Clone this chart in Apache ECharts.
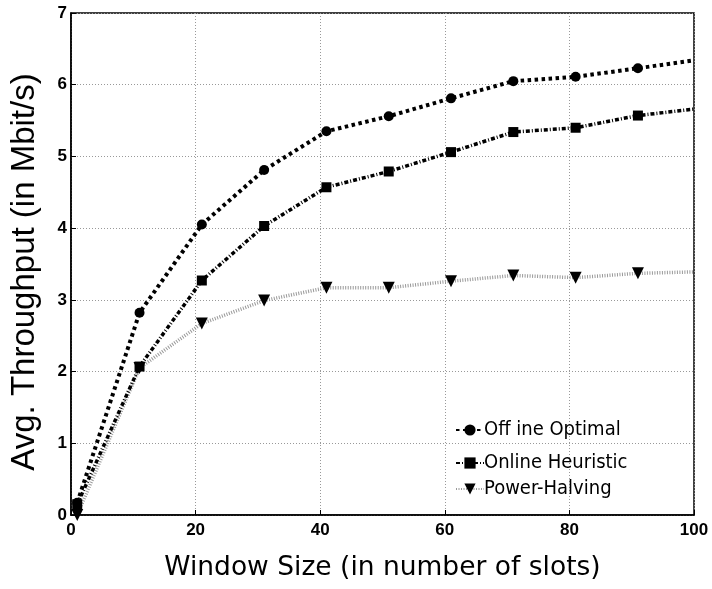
<!DOCTYPE html>
<html><head><meta charset="utf-8">
<script src="https://cdn.jsdelivr.net/npm/echarts@6/dist/echarts.min.js"></script>
<style>html,body{margin:0;padding:0;background:#fff}#c{width:712px;height:589px}</style>
</head><body><div id="c"></div>
<script>
const xValues = [1, 11, 21, 31, 41, 51, 61, 71, 81, 91, 100];
const offlineOptimal = [0.17, 2.82, 4.05, 4.81, 5.35, 5.56, 5.81, 6.05, 6.11, 6.23, 6.34];
const onlineHeuristic = [0.15, 2.07, 3.27, 4.03, 4.57, 4.79, 5.06, 5.34, 5.40, 5.57, 5.66];
const powerHalving = [0.0, 2.05, 2.67, 2.99, 3.17, 3.17, 3.26, 3.34, 3.31, 3.37, 3.39];
const seriesNames = ['Off ine Optimal', 'Online Heuristic', 'Power-Halving'];
const xTicks = [0, 20, 40, 60, 80, 100];
const yTicks = [0, 1, 2, 3, 4, 5, 6, 7];

function pts(vals) {
  return xValues.map((x, i) => i === xValues.length - 1
    ? { value: [x, vals[i]], symbol: 'none' }
    : [x, vals[i]]);
}
const chart = echarts.init(document.getElementById('c'), null, {renderer: 'canvas'});
const labelFont = {fontFamily: 'Liberation Sans, Arial, sans-serif', fontWeight: 'bold', fontSize: 17, color: '#000'};
const legendText = {fontFamily: 'DejaVu Sans Condensed, DejaVu Sans, sans-serif', fontSize: 20, color: '#000', padding: [0,0,0,-5]};
const legendTops = [415, 448, 474];
chart.setOption({
  animation: false,
  backgroundColor: '#fff',
  grid: {left: 67, top: 13, right: 18, bottom: 74, show: true, borderColor: '#000', borderWidth: 1.5, backgroundColor: 'transparent'},
  legend: seriesNames.map((n, i) => ({
    left: 450, top: legendTops[i], itemWidth: 28, itemHeight: 14,
    textStyle: legendText, data: [n]
  })),
  xAxis: {
    type: 'value', min: 0, max: 100, interval: 20,
    name: 'Window Size (in number of slots)', nameLocation: 'middle', nameGap: 40,
    nameTextStyle: {fontFamily: 'DejaVu Sans, sans-serif', fontSize: 26.5, color: '#000'},
    axisLine: {show: true, lineStyle: {color: '#000', width: 1.5}},
    axisTick: {inside: true, length: 5, lineStyle: {color: '#000'}},
    axisLabel: Object.assign({margin: 7, formatter: v => xTicks.includes(v) ? String(v) : ''}, labelFont),
    splitLine: {show: true, lineStyle: {color: '#999', type: [1, 2], width: 1}}
  },
  yAxis: {
    type: 'value', min: 0, max: 7, interval: 1,
    name: 'Avg. Throughput (in Mbit/s)', nameLocation: 'middle', nameGap: 30,
    nameTextStyle: {fontFamily: 'Liberation Sans, Arial, sans-serif', fontSize: 33, color: '#000', padding: [0, 16, 0, 0]},
    axisLine: {show: true, lineStyle: {color: '#000', width: 1.5}},
    axisTick: {inside: true, length: 5, lineStyle: {color: '#000'}},
    axisLabel: Object.assign({margin: 4, formatter: v => yTicks.includes(v) ? String(v) : ''}, labelFont),
    splitLine: {show: true, lineStyle: {color: '#999', type: [1, 2], width: 1}}
  },
  series: [
    {name: seriesNames[0], type: 'line', data: pts(offlineOptimal), symbol: 'circle', symbolSize: 10,
     itemStyle: {color: '#000'}, lineStyle: {color: '#000', width: 4, type: [3.5, 3.5]}, z: 3},
    {name: seriesNames[1], type: 'line', data: pts(onlineHeuristic), symbol: 'rect', symbolSize: 10,
     itemStyle: {color: '#000'}, lineStyle: {color: '#000', width: 3.5, type: [4, 2, 1, 2]}, z: 2},
    {name: seriesNames[2], type: 'line', data: pts(powerHalving), symbol: 'triangle', symbolRotate: 180, symbolSize: 12,
     itemStyle: {color: '#000'}, lineStyle: {color: '#999', width: 3.5, type: [1, 1.5]}, z: 1}
  ]
});
</script></body></html>
